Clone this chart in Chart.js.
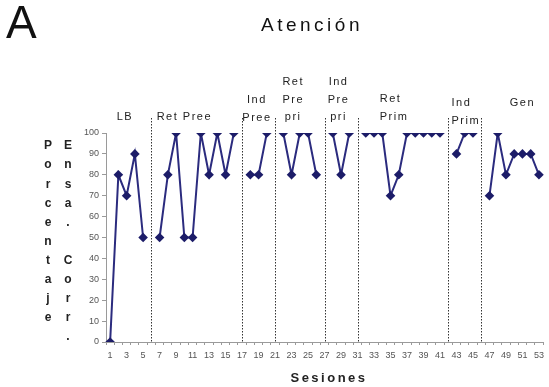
<!DOCTYPE html>
<html>
<head>
<meta charset="utf-8">
<script src="https://cdn.jsdelivr.net/npm/chart.js@4/dist/chart.umd.min.js"></script>
<style>
  html, body { margin: 0; padding: 0; background: #fff; }
  #wrap { width: 549px; height: 387px; position: relative; }
</style>
</head>
<body>
<div id="wrap"><canvas id="c" width="549" height="387"></canvas></div>
<script>
// Sessions 1..53
const sessions = ['1','2','3','4','5','6','7','8','9','10','11','12','13','14','15','16','17','18','19','20',
  '21','22','23','24','25','26','27','28','29','30','31','32','33','34','35','36','37','38','39','40',
  '41','42','43','44','45','46','47','48','49','50','51','52','53'];

// Percentage of correct trials per session (null = no session between phases)
const percentCorrect = [
  0, 80, 70, 90, 50,            // LB
  null,
  50, 80, 100, 50, 50, 100, 80, 100, 80, 100,   // Ret Pree
  null,
  80, 80, 100,                  // Ind Pree
  null,
  100, 80, 100, 100, 80,        // Ret Pre pri
  null,
  100, 80, 100,                 // Ind Pre pri
  null,
  100, 100, 100, 70, 80, 100, 100, 100, 100, 100, // Ret Prim
  null,
  90, 100, 100,                 // Ind Prim
  null,
  70, 100, 80, 90, 90, 90, 80   // Gen
];

// Phase changes (sessions where a dotted divider is drawn)
const phaseBreaks = [6, 17, 21, 27, 31, 42, 46];

// Phase names, one entry per phase, one string per text line
const phaseNames = [
  ['LB'], ['Ret Pree'], ['Ind', 'Pree'], ['Ret', 'Pre', 'pri'],
  ['Ind', 'Pre', 'pri'], ['Ret', 'Prim'], ['Ind', 'Prim'], ['Gen']
];

const yTicks = [0, 10, 20, 30, 40, 50, 60, 70, 80, 90, 100];

const chartTitle = 'Atención';
const panelLetter = 'A';
const xTitle = 'Sesiones';
const yTitleLeft = 'Porcentaje';
const yTitleRight = 'Ensa. Corr.';

// where each phase name sits: session anchor, alignment, first line y, line gap
const phaseLayout = [
  { s: 2.8,  align: 'center', y: 117, gap: 17.5 },
  { s: 10,   align: 'center', y: 117, gap: 17.5 },
  { s: 18.8, align: 'center', y: 100, gap: 17.5 },
  { s: 23.2, align: 'center', y: 82,  gap: 17.5 },
  { s: 28.7, align: 'center', y: 82,  gap: 17.5 },
  { s: 34.3, align: 'left',   y: 99,  gap: 17.5, dx: -5 },
  { s: 42.4, align: 'left',   y: 103, gap: 17.5, dx: 0 },
  { s: 51,   align: 'center', y: 103, gap: 17.5 }
];

const decorations = {
  id: 'decorations',
  afterDraw(chart) {
    const ctx = chart.ctx;
    const xs = chart.scales.x;
    const area = chart.chartArea;
    ctx.save();

    // dotted phase dividers
    ctx.strokeStyle = '#333';
    ctx.lineWidth = 1;
    ctx.setLineDash([1.5, 1.5]);
    phaseBreaks.forEach(s => {
      const x = Math.round(xs.getPixelForValue(s - 1)) + 0.5;
      ctx.beginPath();
      ctx.moveTo(x, 118);
      ctx.lineTo(x, area.bottom);
      ctx.stroke();
    });
    ctx.setLineDash([]);

    // phase names
    ctx.fillStyle = '#222';
    ctx.font = '11px Arial, "Liberation Sans", sans-serif';
    ctx.letterSpacing = '1.5px';
    ctx.textBaseline = 'middle';
    phaseNames.forEach((lines, i) => {
      const L = phaseLayout[i];
      const x = xs.getPixelForValue(L.s - 1) + (L.dx || 0);
      ctx.textAlign = L.align;
      lines.forEach((t, k) => ctx.fillText(t, x, L.y + k * L.gap));
    });

    // chart title
    ctx.font = '19px Arial, "Liberation Sans", sans-serif';
    ctx.letterSpacing = '3.5px';
    ctx.textAlign = 'center';
    ctx.textBaseline = 'alphabetic';
    ctx.fillStyle = '#111';
    ctx.fillText(chartTitle, 312, 31);

    // panel letter
    ctx.letterSpacing = '0px';
    ctx.font = '46px Arial, "Liberation Sans", sans-serif';
    ctx.textAlign = 'left';
    ctx.fillText(panelLetter, 6, 38);

    // x axis title
    ctx.font = 'bold 13px Arial, "Liberation Sans", sans-serif';
    ctx.letterSpacing = '2.5px';
    ctx.textAlign = 'center';
    ctx.textBaseline = 'middle';
    ctx.fillStyle = '#222';
    ctx.fillText(xTitle, 329, 378);

    // y axis title, stacked letters in two columns
    ctx.letterSpacing = '0px';
    ctx.font = 'bold 12px Arial, "Liberation Sans", sans-serif';
    [...yTitleLeft].forEach((ch, k) => ctx.fillText(ch, 48, 146 + k * 19.1));
    [...yTitleRight].forEach((ch, k) => ctx.fillText(ch, 68, 146 + k * 19.1));

    ctx.restore();
  }
};

new Chart(document.getElementById('c'), {
  type: 'line',
  data: {
    labels: sessions,
    datasets: [{
      data: percentCorrect,
      borderColor: '#2b2b7e',
      backgroundColor: '#1c1c68',
      borderWidth: 2,
      pointStyle: 'rectRot',
      pointRadius: 4.8,
      pointBorderWidth: 0,
      spanGaps: false,
      tension: 0
    }]
  },
  options: {
    responsive: false,
    devicePixelRatio: 1,
    animation: false,
    layout: { padding: { top: 133, right: 1.5, left: 0, bottom: 0 } },
    plugins: { legend: { display: false }, tooltip: { enabled: false }, title: { display: false } },
    scales: {
      x: {
        type: 'category',
        offset: true,
        afterFit(scale) { scale.height = 45; },
        border: { color: '#9a9a9a', width: 1 },
        grid: { offset: true, drawOnChartArea: false, tickLength: 3, color: '#9a9a9a' },
        ticks: {
          autoSkip: false, maxRotation: 0, padding: 5,
          color: '#555', font: { size: 9, family: 'Arial, "Liberation Sans", sans-serif' },
          callback: (v, i) => (i % 2 === 0 ? sessions[i] : '')
        }
      },
      y: {
        min: 0, max: 100,
        afterFit(scale) { scale.width = 106; },
        afterBuildTicks(scale) { scale.ticks = yTicks.map(v => ({ value: v })); },
        border: { color: '#9a9a9a', width: 1 },
        grid: { drawOnChartArea: false, tickLength: 4, color: '#9a9a9a' },
        ticks: {
          padding: 3,
          color: '#555', font: { size: 9, family: 'Arial, "Liberation Sans", sans-serif' }
        }
      }
    }
  },
  plugins: [decorations]
});
</script>
</body>
</html>
